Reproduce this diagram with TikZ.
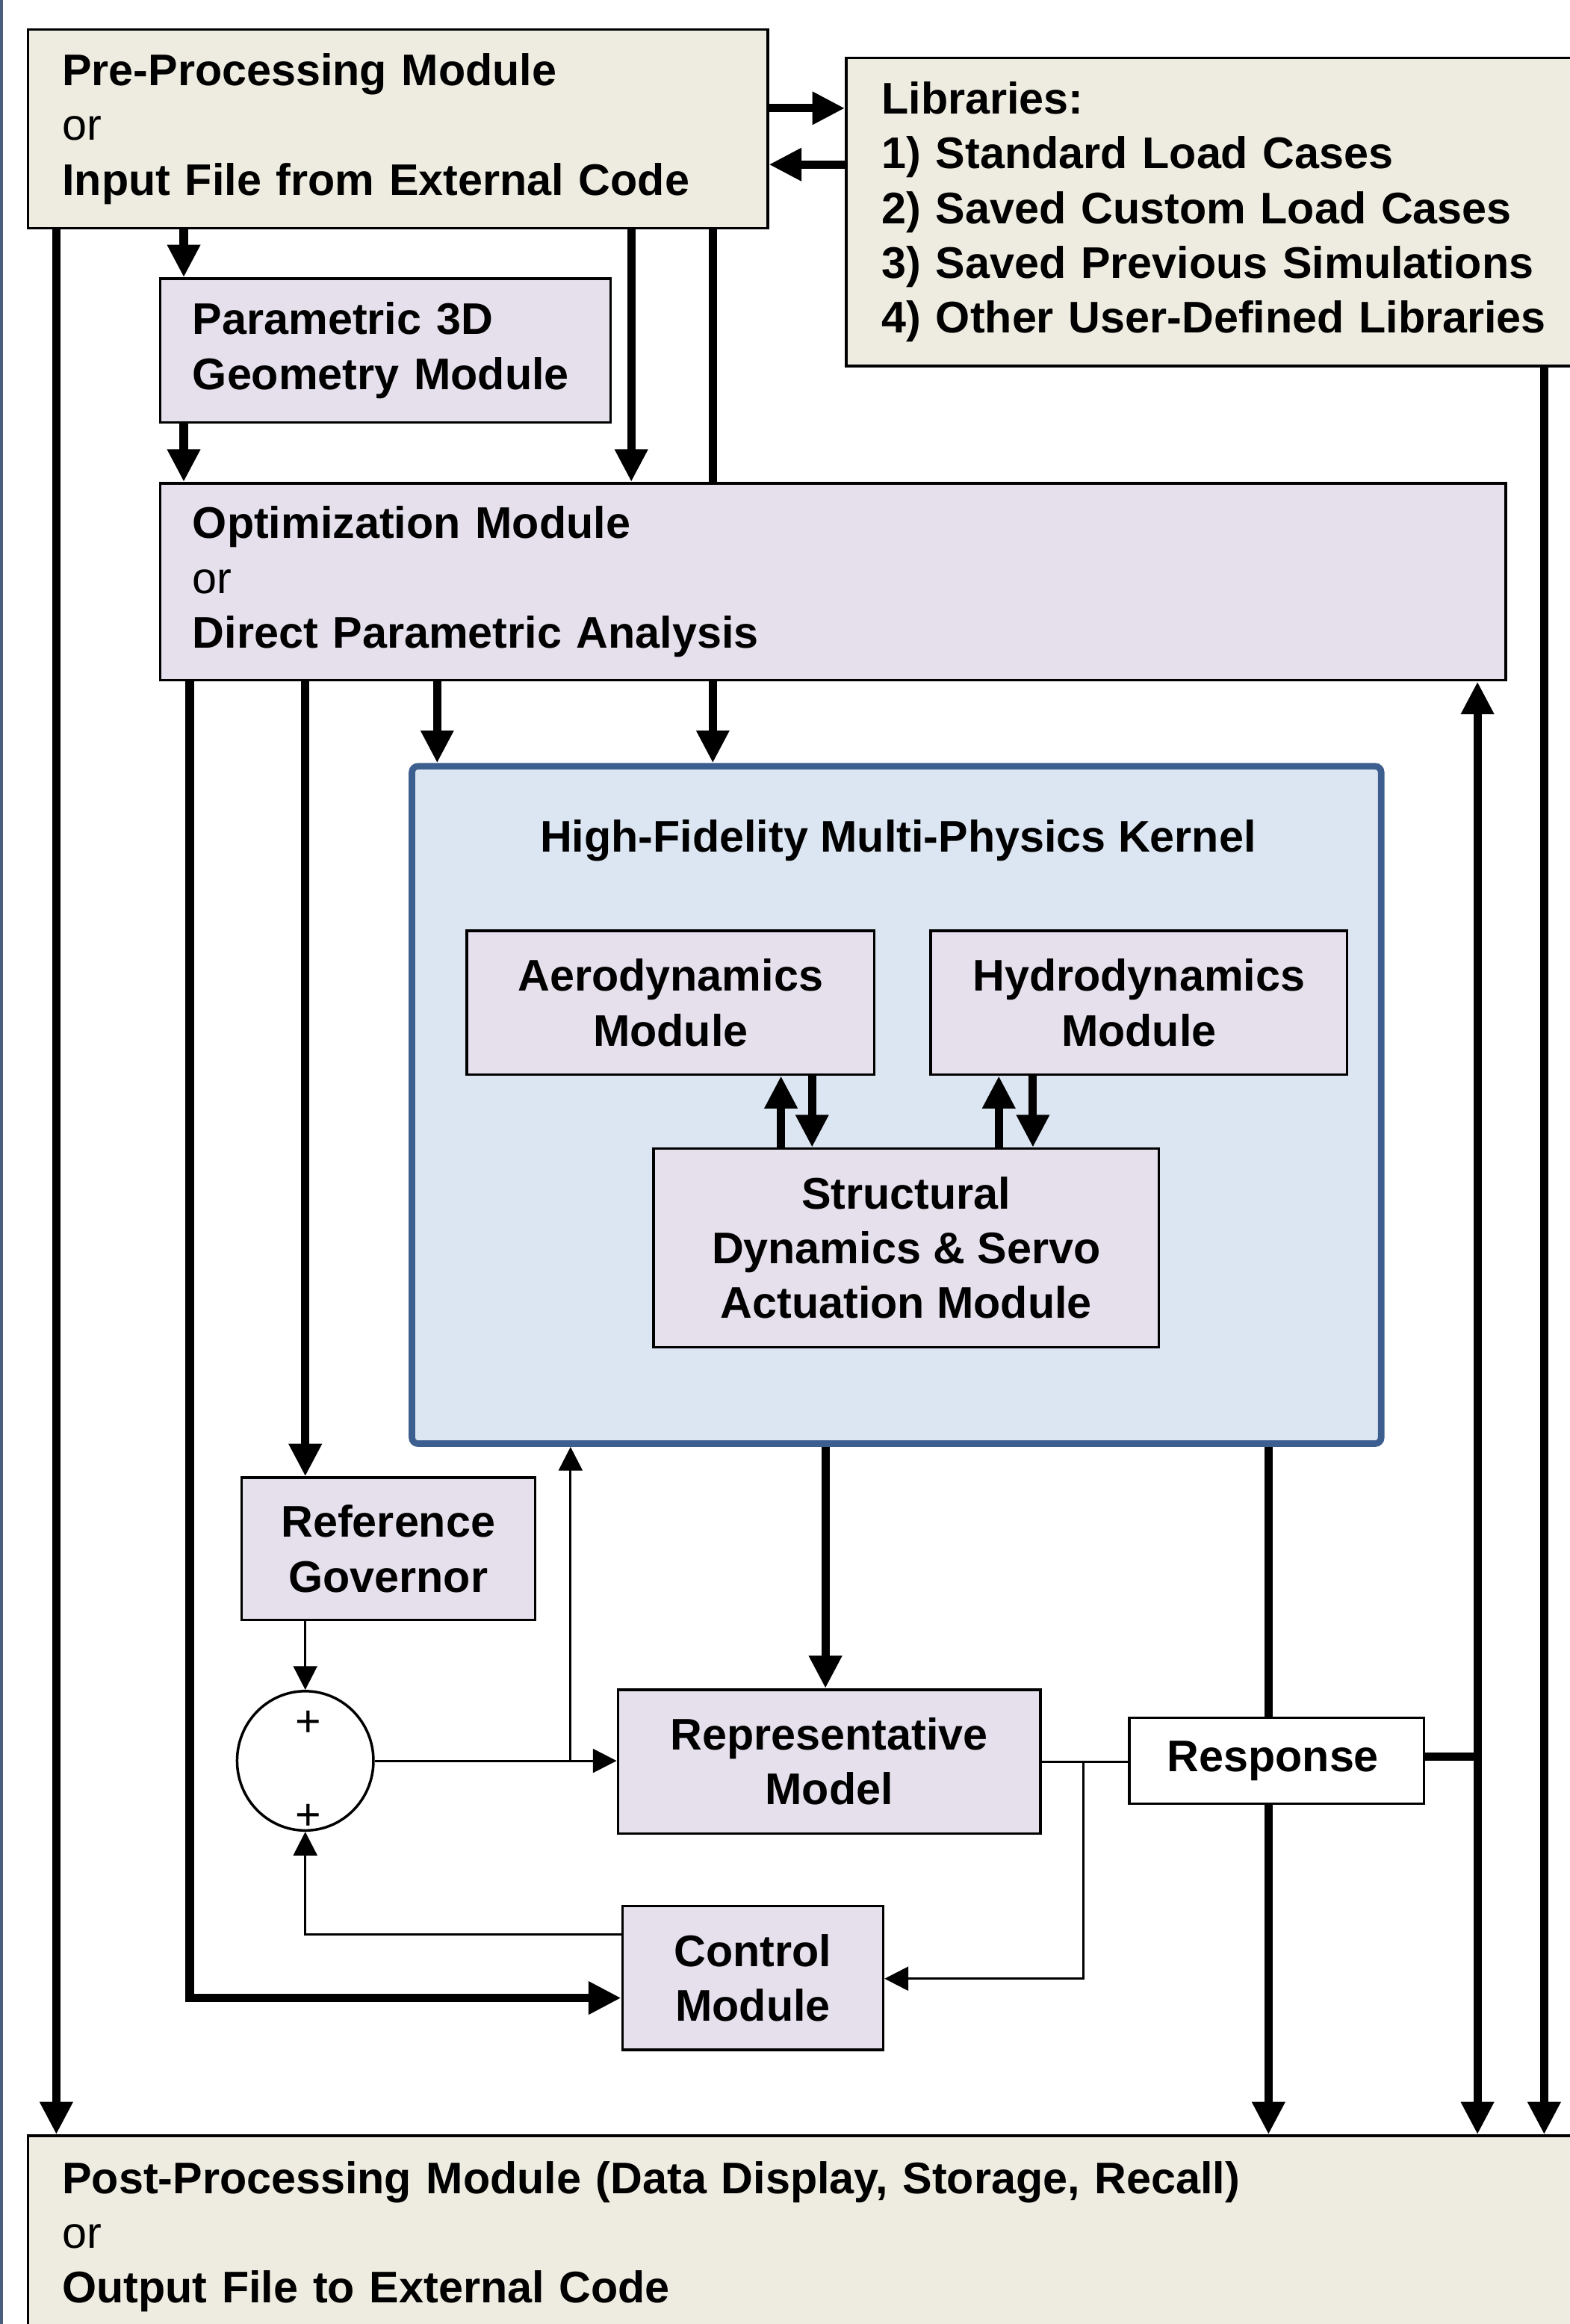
\documentclass[tikz,border=0pt]{standalone}
\usepackage{fontspec}
\setmainfont{Liberation Sans}
\usetikzlibrary{arrows.meta, calc, positioning, shapes.geometric}

\definecolor{paper}{HTML}{EEECE1}
\definecolor{lilac}{HTML}{E5E0EC}
\definecolor{kernelfill}{HTML}{DCE6F2}
\definecolor{kernelline}{HTML}{3D5F8F}
\definecolor{frameline}{HTML}{4A5F7E}

\begin{document}
\begin{tikzpicture}[x=0.2mm, y=-0.2mm,
        font=\fontsize{17}{21}\selectfont\bfseries,
        box/.style={draw, line width=1pt, fill=lilac, inner sep=0pt, align=center},
        listbox/.style={box, fill=paper, align=left},
        flow/.style={line width=3.2pt, -{Triangle[width=4.2mm, length=4.4mm]}},
        bus/.style={line width=3.2pt},
        wire/.style={line width=0.85pt},
        sig/.style={wire, -{Triangle[width=3.2mm, length=3.2mm]}}]

    \useasboundingbox (0, 0) rectangle (1059, 1568);
    \draw[frameline, line width=0.5mm] (0.8, 0) -- (0.8, 1568);

    \node[listbox, inner xsep=4.6mm, text width=90.6mm, minimum height=26.8mm] (pre) at (268.5, 87)
        {Pre-Processing Module\\{\mdseries or}\\Input File from External Code};
    \node[listbox, inner xsep=4.8mm, text width=106.2mm, minimum height=41.6mm] (lib) at (860.5, 143)
        {Libraries:\\1) Standard Load Cases\\2) Saved Custom Load Cases\\3) Saved Previous Simulations\\4) Other User-Defined Libraries};
    \node[listbox, fill=lilac, inner xsep=4.4mm, text width=52mm, minimum height=19.4mm] (geo) at (260, 236.5)
        {Parametric 3D\\Geometry Module};
    \node[listbox, fill=lilac, inner xsep=4.4mm, text width=172.8mm, minimum height=26.6mm] (opt) at (562, 392.5)
        {Optimization Module\\{\mdseries or}\\Direct Parametric Analysis};

    \node[box, draw=kernelline, line width=2.5pt, fill=kernelfill, rounded corners=0.8mm,
        minimum width=130.8mm, minimum height=91.4mm] (kern) at (605, 745.5) {};
    \node (ktitle) at (606, 567) {High-Fidelity Multi-Physics Kernel};
    \node[box, minimum width=55mm, minimum height=19.4mm] (aero) at (452.5, 676.5) {Aerodynamics\\Module};
    \node[box, minimum width=56.2mm, minimum height=19.4mm] (hydro) at (768.5, 676.5) {Hydrodynamics\\Module};
    \node[box, minimum width=68.2mm, minimum height=26.8mm] (struct) at (611.5, 842)
        {Structural\\Dynamics \& Servo\\Actuation Module};

    \node[box, minimum width=39.6mm, minimum height=19.2mm] (gov) at (262, 1045) {Reference\\Governor};
    \node[draw, ellipse, line width=1pt, fill=white, minimum width=18.4mm, minimum height=18.8mm] (sum) at (206, 1188) {};
    \node[font=\fontsize{17}{21}\selectfont\mdseries] (plusa) at (208, 1163) {+};
    \node[font=\fontsize{17}{21}\selectfont\mdseries] (plusb) at (208, 1226) {+};
    \node[box, minimum width=57mm, minimum height=19.4mm] (rep) at (559.5, 1188.5) {Representative\\Model};
    \node[box, fill=white, minimum width=39.8mm, minimum height=11.6mm] (resp) at (861.5, 1188) {Response\hspace{1mm}};
    \node[box, minimum width=35.2mm, minimum height=19.4mm] (ctrl) at (508, 1334.5) {Control\\Module};

    \node[listbox, inner xsep=4.6mm, text width=217mm, minimum height=27.2mm] (post) at (584.5, 1509)
        {Post-Processing Module (Data Display, Storage, Recall)\\{\mdseries or}\\Output File to External Code};

    \coordinate (xa) at (38, 0);
    \coordinate (xb) at (124, 0);
    \coordinate (xg) at (128, 0);
    \coordinate (xf) at (206, 0);
    \coordinate (xe) at (295, 0);
    \coordinate (xl) at (385, 0);
    \coordinate (xc) at (426, 0);
    \coordinate (xd) at (481, 0);
    \coordinate (xh) at (557, 0);
    \coordinate (xm) at (731, 0);
    \coordinate (xi) at (856, 0);
    \coordinate (xj) at (997, 0);
    \coordinate (xk) at (1042, 0);
    \coordinate (ka) at (527, 0);
    \coordinate (kb) at (548, 0);
    \coordinate (kc) at (674, 0);
    \coordinate (kd) at (697, 0);
    \coordinate (ya) at (0, 73);
    \coordinate (yb) at (0, 111);
    \coordinate (yc) at (0, 1348);
    \coordinate (ye) at (0, 1335);
    \coordinate (yf) at (0, 1305);
    \coordinate (yr) at (0, 1185);

    \draw
        (pre.east |- ya) edge[flow] (lib.west |- ya)
        (lib.west |- yb) edge[flow] (pre.east |- yb)
        (pre.south -| xa) edge[flow] (post.north -| xa)
        (pre.south -| xb) edge[flow] (geo.north -| xb)
        (geo.south -| xb) edge[flow] (opt.north -| xb)
        (pre.south -| xc) edge[flow] (opt.north -| xc)
        (pre.south -| xd) edge[bus] (opt.north -| xd)
        (opt.south -| xe) edge[flow] (kern.north -| xe)
        (opt.south -| xd) edge[flow] (kern.north -| xd)
        (opt.south -| xf) edge[flow] (gov.north -| xf)
        (kern.south -| xh) edge[flow] (rep.north -| xh)
        (kern.south -| xi) edge[bus] (resp.north -| xi)
        (resp.south -| xi) edge[flow] (post.north -| xi)
        (lib.south -| xk) edge[flow] (post.north -| xk);

    \draw
        (struct.north -| ka) edge[flow] (aero.south -| ka)
        (aero.south -| kb) edge[flow] (struct.north -| kb)
        (struct.north -| kc) edge[flow] (hydro.south -| kc)
        (hydro.south -| kd) edge[flow] (struct.north -| kd);

    \draw[flow] (opt.south -| xg) |- (ctrl.west |- yc);
    \draw[bus] (resp.east |- yr) -- (xj |- yr);
    \draw
        (xj |- yr) edge[flow] (opt.south -| xj)
        (xj |- yr) edge[flow] (post.north -| xj);

    \draw[sig] (gov.south -| xf) -- (sum.north);
    \draw[sig] (sum.east) -- (rep.west |- sum.east);
    \draw[sig] (sum.east -| xl) -- (kern.south -| xl);
    \draw[wire] (rep.east) -- (resp.west |- rep.east);
    \draw[sig] (rep.east -| xm) |- (ctrl.east |- ye);
    \draw[sig] (ctrl.west |- yf) -| (sum.south);
\end{tikzpicture}
\end{document}
